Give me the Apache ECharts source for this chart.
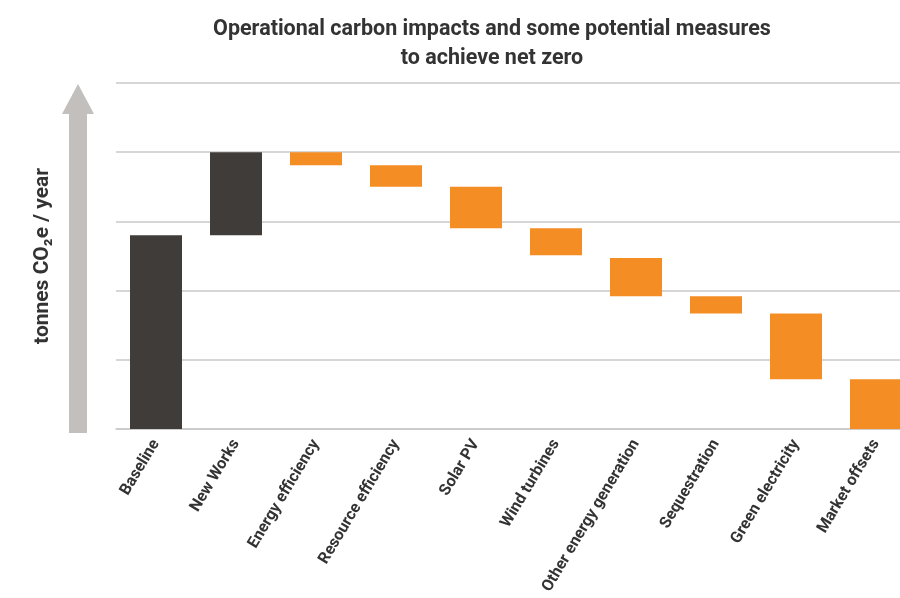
<!DOCTYPE html>
<html>
<head>
<meta charset="utf-8">
<script src="https://cdn.jsdelivr.net/npm/echarts@6/dist/echarts.min.js"></script>
<style>
  html, body { margin: 0; padding: 0; background: #fff; }
  #chart { width: 900px; height: 598px; }
</style>
</head>
<body>
<div id="chart"></div>
<script>
const categories = ["Baseline", "New Works", "Energy efficiency", "Resource efficiency", "Solar PV",
  "Wind turbines", "Other energy generation", "Sequestration", "Green electricity", "Market offsets"];
// bottom and top of each floating bar (grid units)
const barLow  = [0,    2.80, 3.81, 3.50, 2.90, 2.51, 1.92, 1.67, 0.72, 0];
const barHigh = [2.80, 4.00, 4.00, 3.81, 3.50, 2.90, 2.47, 1.92, 1.67, 0.72];
const totalBars = ["Baseline", "New Works"];

const FONT = "'Roboto', sans-serif";
const DARK = "#403c3a";
const ORANGE = "#f58d25";
const GRID = "#c9c9c9";
const ARROW = "#c2bfbd";

const chart = echarts.init(document.getElementById("chart"));

chart.setOption({
  backgroundColor: "#fff",
  animation: false,
  title: {
    text: "Operational carbon impacts and some potential measures\nto achieve net zero",
    left: 487,
    top: 10,
    textAlign: "center",
    textStyle: { fontFamily: FONT, fontWeight: "bold", fontSize: 21.5, color: "#333", lineHeight: 29 }
  },
  grid: { left: 116, top: 83, height: 346, width: 800, outerBoundsMode: "none" },
  xAxis: {
    type: "category",
    data: categories,
    axisTick: { show: false },
    axisLine: { lineStyle: { color: GRID, width: 1.5 } },
    axisLabel: {
      interval: 0, rotate: 59, margin: 12,
      fontFamily: FONT, fontWeight: "bold", fontSize: 16, color: "#333"
    }
  },
  yAxis: {
    type: "value",
    min: 0, max: 5, interval: 1,
    offset: 38,
    name: "tonnes CO\u2082e / year",
    nameLocation: "middle",
    nameGap: 25,
    nameTextStyle: { fontFamily: FONT, fontWeight: "bold", fontSize: 21, color: "#333" },
    axisLabel: { show: false },
    axisTick: { show: false },
    axisLine: { show: false },
    splitLine: { lineStyle: { color: GRID, width: 1.5 } }
  },
  series: [
    {
      type: "bar",
      stack: "w",
      silent: true,
      barWidth: 52,
      itemStyle: { color: "transparent" },
      data: barLow
    },
    {
      type: "bar",
      stack: "w",
      barWidth: 52,
      data: barHigh.map((h, i) => ({
        value: +(h - barLow[i]).toFixed(3),
        itemStyle: { color: totalBars.includes(categories[i]) ? DARK : ORANGE }
      }))
    }
  ]
});

// decorative "increasing" arrow next to the value axis
const y0 = chart.convertToPixel({ yAxisIndex: 0 }, 0);
const yTop = chart.convertToPixel({ yAxisIndex: 0 }, 5);
const ax = 116 - 38;
const headH = 31;
chart.setOption({
  graphic: [
    {
      type: "rect",
      shape: { x: ax - 9, y: yTop + headH, width: 18, height: y0 + 4 - (yTop + headH) },
      style: { fill: ARROW },
      silent: true
    },
    {
      type: "polygon",
      shape: { points: [[ax - 16, yTop + headH], [ax + 16, yTop + headH], [ax, yTop + 1]] },
      style: { fill: ARROW },
      silent: true
    }
  ]
});
</script>
</body>
</html>
